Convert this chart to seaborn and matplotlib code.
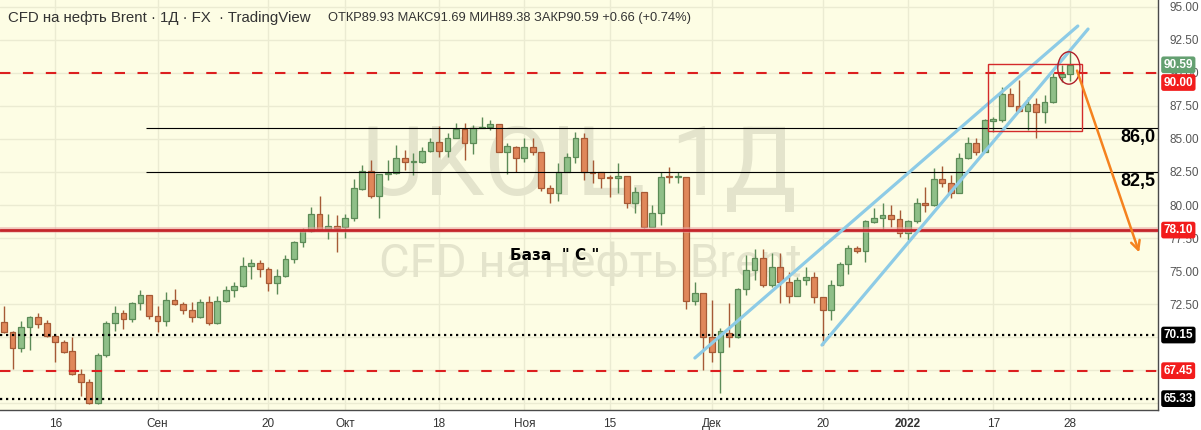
import matplotlib
matplotlib.use('Agg')
import matplotlib.pyplot as plt
from matplotlib.patches import Rectangle, Ellipse
import numpy as np
import pandas as pd
import seaborn as sns

# Daily OHLC, UKOIL (CFD Brent), 2021-08-06 .. 2022-01-28
opens = [71.11, 70.36, 69.14, 70.73, 71.49, 71.04, 70.05, 69.60, 68.92, 67.17,
         66.57, 64.98, 68.61, 71.04, 71.80, 71.34, 72.55, 73.16, 71.59, 71.19,
         72.78, 72.48, 72.02, 71.49, 72.63, 71.08, 72.70, 73.54, 73.84, 75.36,
         75.58, 75.17, 74.07, 74.60, 75.89, 77.17, 78.03, 79.30, 78.18, 78.39,
         78.31, 79.04, 81.24, 82.60, 80.70, 82.33, 82.40, 83.54, 83.23, 83.23,
         84.07, 84.75, 84.07, 85.05, 85.76, 84.67, 85.81, 85.93, 86.11, 83.99,
         84.42, 83.58, 84.37, 83.99, 81.27, 80.89, 82.52, 83.61, 85.05, 82.48,
         82.48, 82.05, 82.02, 82.22, 80.13, 81.01, 78.31, 79.42, 82.18, 82.12,
         82.14, 72.75, 73.31, 70.02, 68.89, 70.33, 69.98, 73.61, 75.08, 75.96,
         73.94, 75.28, 74.19, 73.13, 74.32, 74.52, 73.01, 72.05, 73.92, 75.53,
         76.72, 76.54, 78.73, 78.99, 79.24, 78.92, 77.86, 78.81, 80.13, 79.98,
         81.95, 81.64, 80.93, 83.54, 84.67, 83.99, 86.39, 86.44, 88.39, 87.52,
         87.14, 87.63, 87.07, 87.83, 89.67, 89.93]
highs = [72.35, 70.45, 71.21, 71.61, 71.80, 71.29, 70.15, 69.77, 69.98, 67.55,
         66.80, 68.81, 71.21, 72.35, 72.05, 72.65, 73.56, 73.18, 72.35, 73.43,
         73.64, 72.65, 72.67, 72.86, 73.11, 73.08, 73.84, 74.19, 76.04, 75.89,
         75.83, 75.28, 75.13, 76.21, 77.30, 78.23, 79.85, 80.70, 79.30, 79.24,
         79.30, 81.97, 83.03, 83.41, 82.35, 83.41, 84.55, 84.17, 83.92, 84.37,
         85.05, 85.98, 85.43, 86.19, 86.19, 86.06, 86.64, 86.44, 86.13, 84.67,
         84.47, 85.05, 85.05, 84.00, 81.52, 83.16, 83.92, 85.55, 85.43, 83.41,
         82.50, 82.27, 83.16, 82.23, 81.34, 81.02, 80.00, 82.52, 82.90, 82.52,
         82.15, 74.19, 73.33, 72.80, 70.66, 72.55, 73.71, 76.21, 76.64, 76.64,
         76.34, 76.34, 74.95, 74.57, 75.28, 74.95, 73.03, 74.32, 75.70, 76.97,
         76.89, 78.86, 79.75, 80.13, 80.00, 79.62, 78.86, 80.51, 81.39, 82.78,
         82.95, 82.27, 83.92, 85.13, 85.05, 86.50, 86.69, 88.96, 88.84, 89.47,
         88.20, 88.08, 88.33, 90.02, 90.61, 91.69]
lows = [70.30, 67.58, 68.89, 69.02, 70.66, 69.98, 68.13, 68.81, 67.12, 65.55,
        64.90, 64.92, 68.51, 70.48, 70.63, 71.11, 72.05, 71.34, 70.40, 70.86,
        72.40, 71.77, 71.11, 71.46, 70.89, 70.96, 72.67, 73.05, 73.77, 74.42,
        74.57, 73.51, 73.24, 74.52, 75.58, 76.84, 77.98, 78.03, 77.45, 76.46,
        77.52, 78.77, 81.14, 80.55, 79.05, 81.93, 82.35, 82.65, 82.27, 83.20,
        84.05, 83.66, 83.66, 85.04, 83.41, 83.84, 85.80, 85.68, 83.98, 82.33,
        82.52, 83.28, 83.79, 81.08, 80.17, 80.30, 82.51, 83.16, 81.90, 81.67,
        81.27, 80.58, 80.89, 79.75, 79.37, 78.23, 78.30, 78.48, 81.69, 81.69,
        72.10, 72.42, 67.50, 68.13, 65.74, 69.22, 69.96, 73.18, 74.32, 73.81,
        73.77, 72.55, 72.55, 73.12, 73.94, 72.55, 69.39, 71.29, 73.90, 74.77,
        76.34, 75.70, 78.61, 78.11, 78.36, 77.55, 77.35, 78.61, 79.49, 79.96,
        81.39, 80.51, 80.92, 83.52, 83.79, 83.98, 85.55, 86.31, 87.50, 87.07,
        85.68, 85.05, 86.19, 87.75, 89.34, 89.38]
closes = [70.36, 69.14, 70.73, 71.52, 71.01, 70.05, 69.60, 68.89, 67.17, 66.57,
          64.98, 68.61, 71.04, 71.80, 71.34, 72.55, 73.16, 71.59, 71.19, 72.78,
          72.48, 72.02, 71.49, 72.63, 71.08, 72.70, 73.54, 73.84, 75.36, 75.58,
          75.17, 74.07, 74.60, 75.89, 77.17, 78.03, 79.30, 78.08, 78.39, 78.26,
          79.04, 81.27, 82.60, 80.70, 82.33, 82.45, 83.54, 83.23, 83.27, 84.07,
          84.75, 84.07, 85.05, 85.76, 84.67, 85.81, 85.93, 86.11, 83.99, 84.47,
          83.58, 84.37, 83.99, 81.27, 80.89, 82.52, 83.61, 85.05, 82.48, 82.44,
          82.02, 82.02, 82.22, 80.13, 81.01, 78.31, 79.42, 82.14, 82.12, 82.16,
          72.75, 73.31, 70.02, 68.89, 70.44, 69.98, 73.64, 75.08, 75.96, 73.94,
          75.28, 74.19, 73.13, 74.32, 74.52, 73.01, 72.05, 73.92, 75.53, 76.72,
          76.54, 78.79, 78.99, 79.24, 78.92, 77.86, 78.81, 80.13, 79.98, 81.95,
          81.64, 80.93, 83.54, 84.67, 83.99, 86.44, 86.52, 88.39, 87.52, 87.14,
          87.63, 87.07, 87.83, 89.67, 89.92, 90.59]

dates = pd.bdate_range('2021-08-06', '2022-01-28')

tick_dates = ['2021-08-16', '2021-09-01', '2021-09-20', '2021-10-01', '2021-10-18', '2021-11-01',
              '2021-11-15', '2021-12-01', '2021-12-20', '2022-01-03', '2022-01-17', '2022-01-28']
tick_labels = ['16', 'Сен', '20', 'Окт', '18', 'Ноя', '15', 'Дек', '20', '2022', '17', '28']

# drawn levels
red_dashed_levels = [90.00, 67.45]
dotted_levels = [70.15, 65.33]
support_level = 78.10
black_levels = [85.85, 82.5]
black_labels = ['86,0', '82,5']

# price boxes on the scale: value, colour, where the box sits
box_values = [90.59, 90.00, 78.10, 70.15, 67.45, 65.33]
box_colors = ['#64a071', '#f21c1c', '#f21c1c', '#000000', '#f21c1c', '#000000']
box_pos = [90.62, 89.28, 78.10, 70.15, 67.45, 65.33]

# trend channel (bar index, price)
channel = pd.DataFrame({
    'x': [81.0, 125.9, 95.9, 127.1],
    'y': [68.41, 93.56, 69.39, 93.33],
    'line': ['a', 'a', 'b', 'b'],
})

sns.set_theme(style='white')
plt.rcParams['font.family'] = ['Liberation Sans', 'DejaVu Sans']

df = pd.DataFrame({'date': dates, 'open': opens, 'high': highs, 'low': lows, 'close': closes})
df['i'] = np.arange(len(df))
up = df['close'] >= df['open']

fig = plt.figure(figsize=(12.01, 4.30), dpi=100, facecolor='white')
ax = fig.add_axes([0, 20 / 430, 1158 / 1201, 410 / 430])
ax.set_facecolor('#fdfde4')

# watermark
ax.text(67.5, 80.76, 'UKOIL, 1Д', fontsize=69, family='Roboto', color='#e4e4cc',
        ha='center', va='baseline', zorder=1)
ax.text(68.7, 74.55, 'CFD на нефть Brent', fontsize=34, family='Roboto', color='#e4e4cc',
        ha='center', va='baseline', zorder=1)

# candles
fill = np.where(up, '#8fbf88', '#e0875a')
edge = np.where(up, '#5c8b57', '#a65a36')
ax.vlines(df['i'], df['low'], df['high'], colors=edge, linewidth=1, zorder=3)
body_bottom = np.minimum(df['open'], df['close'])
body_h = np.maximum((df['close'] - df['open']).abs(), 0.07)
ax.bar(df['i'], body_h, bottom=body_bottom, width=0.68, color=fill, edgecolor=edge,
       linewidth=0.9, zorder=4)

# levels
for v in red_dashed_levels:
    ax.axhline(v, color='#dc1f1f', linewidth=1.5, dashes=(5, 6), zorder=5)
for v in dotted_levels:
    ax.axhline(v, color='black', linewidth=1.6, dashes=(1, 1.7), zorder=5)
ax.axhline(support_level, color='#e9a3a3', linewidth=4, alpha=0.6, zorder=5)
ax.axhline(support_level, color='#c4262b', linewidth=2, zorder=5)
for v, lab in zip(black_levels, black_labels):
    ax.hlines(v, 16.6, 136, color='black', linewidth=0.8, zorder=5)
    ax.text(132.9, v - 0.7, lab, fontsize=13, fontweight='bold', ha='center', va='center',
            color='black', zorder=6)

# trend channel
sns.lineplot(data=channel, x='x', y='y', units='line', estimator=None, color='#8dcbe6',
             linewidth=2.3, ax=ax, zorder=6, legend=False, sort=False)

# box and circle round the last bars
ax.add_patch(Rectangle((115.36, 85.61), 11.04, 5.07, fill=False, edgecolor='#d42a2a',
                       linewidth=1, zorder=6))
ax.add_patch(Ellipse((124.85, 90.38), 2.6, 2.45, fill=False, edgecolor='#b01f2a',
                     linewidth=1, zorder=6))
ax.annotate('', xy=(133.2, 76.21), xytext=(125.7, 90.38),
            arrowprops=dict(arrowstyle='->', color='#f5821f', linewidth=1.8,
                            mutation_scale=16), zorder=7)

ax.text(64.6, 76.14, 'База  " С "', fontsize=11, fontweight='bold', family='DejaVu Sans',
        ha='center', va='center', color='black', zorder=6)

# axes
ax.set_xlim(-0.47, 135.3)
ax.set_ylim(64.47, 95.53)
tick_pos = [int(np.where(dates == pd.Timestamp(d))[0][0]) for d in tick_dates]
ax.set_xticks(tick_pos)
ax.set_xticklabels(tick_labels, fontsize=8.5, color='#333333')
for t in ax.get_xticklabels():
    if t.get_text() == '2022':
        t.set_fontweight('bold')
yt = np.arange(65, 95.01, 2.5)
ax.set_yticks(yt)
ax.set_yticklabels(['' if v < 71 else f'{v:.2f}' for v in yt], fontsize=8.5, color='#555555')
ax.yaxis.tick_right()
ax.tick_params(axis='both', length=0)
ax.tick_params(axis='y', pad=8)
ax.tick_params(axis='x', pad=6)
ax.grid(True, color='#ebebd2', linewidth=1)
ax.set_axisbelow(True)
for s in ['left', 'top']:
    ax.spines[s].set_visible(False)
for s in ['right', 'bottom']:
    ax.spines[s].set_color('#4a4a4a')
    ax.spines[s].set_linewidth(1)
ax.set_xlabel('')
ax.set_ylabel('')

for v, pos, c in zip(box_values, box_pos, box_colors):
    ax.annotate(f'{v:.2f}', xy=(1.0, pos), xycoords=('axes fraction', 'data'),
                xytext=(4, 0), textcoords='offset points', fontsize=8.5, fontweight='bold',
                color='white', ha='left', va='center', annotation_clip=False, zorder=8,
                bbox=dict(boxstyle='round,pad=0.2', fc=c, ec='none'))

# header
ax.text(8 / 1158, 1 - 18 / 410, 'CFD на нефть Brent · 1Д · FX  · TradingView', fontsize=10.8,
        color='#333333', ha='left', va='center', transform=ax.transAxes, zorder=8)
ax.text(328 / 1158, 1 - 18 / 410, 'ОТКР89.93 МАКС91.69 МИН89.38 ЗАКР90.59 +0.66 (+0.74%)',
        fontsize=9.3, color='#333333', ha='left', va='center', transform=ax.transAxes, zorder=8)

fig.savefig('out.png', dpi=100, facecolor='white')
